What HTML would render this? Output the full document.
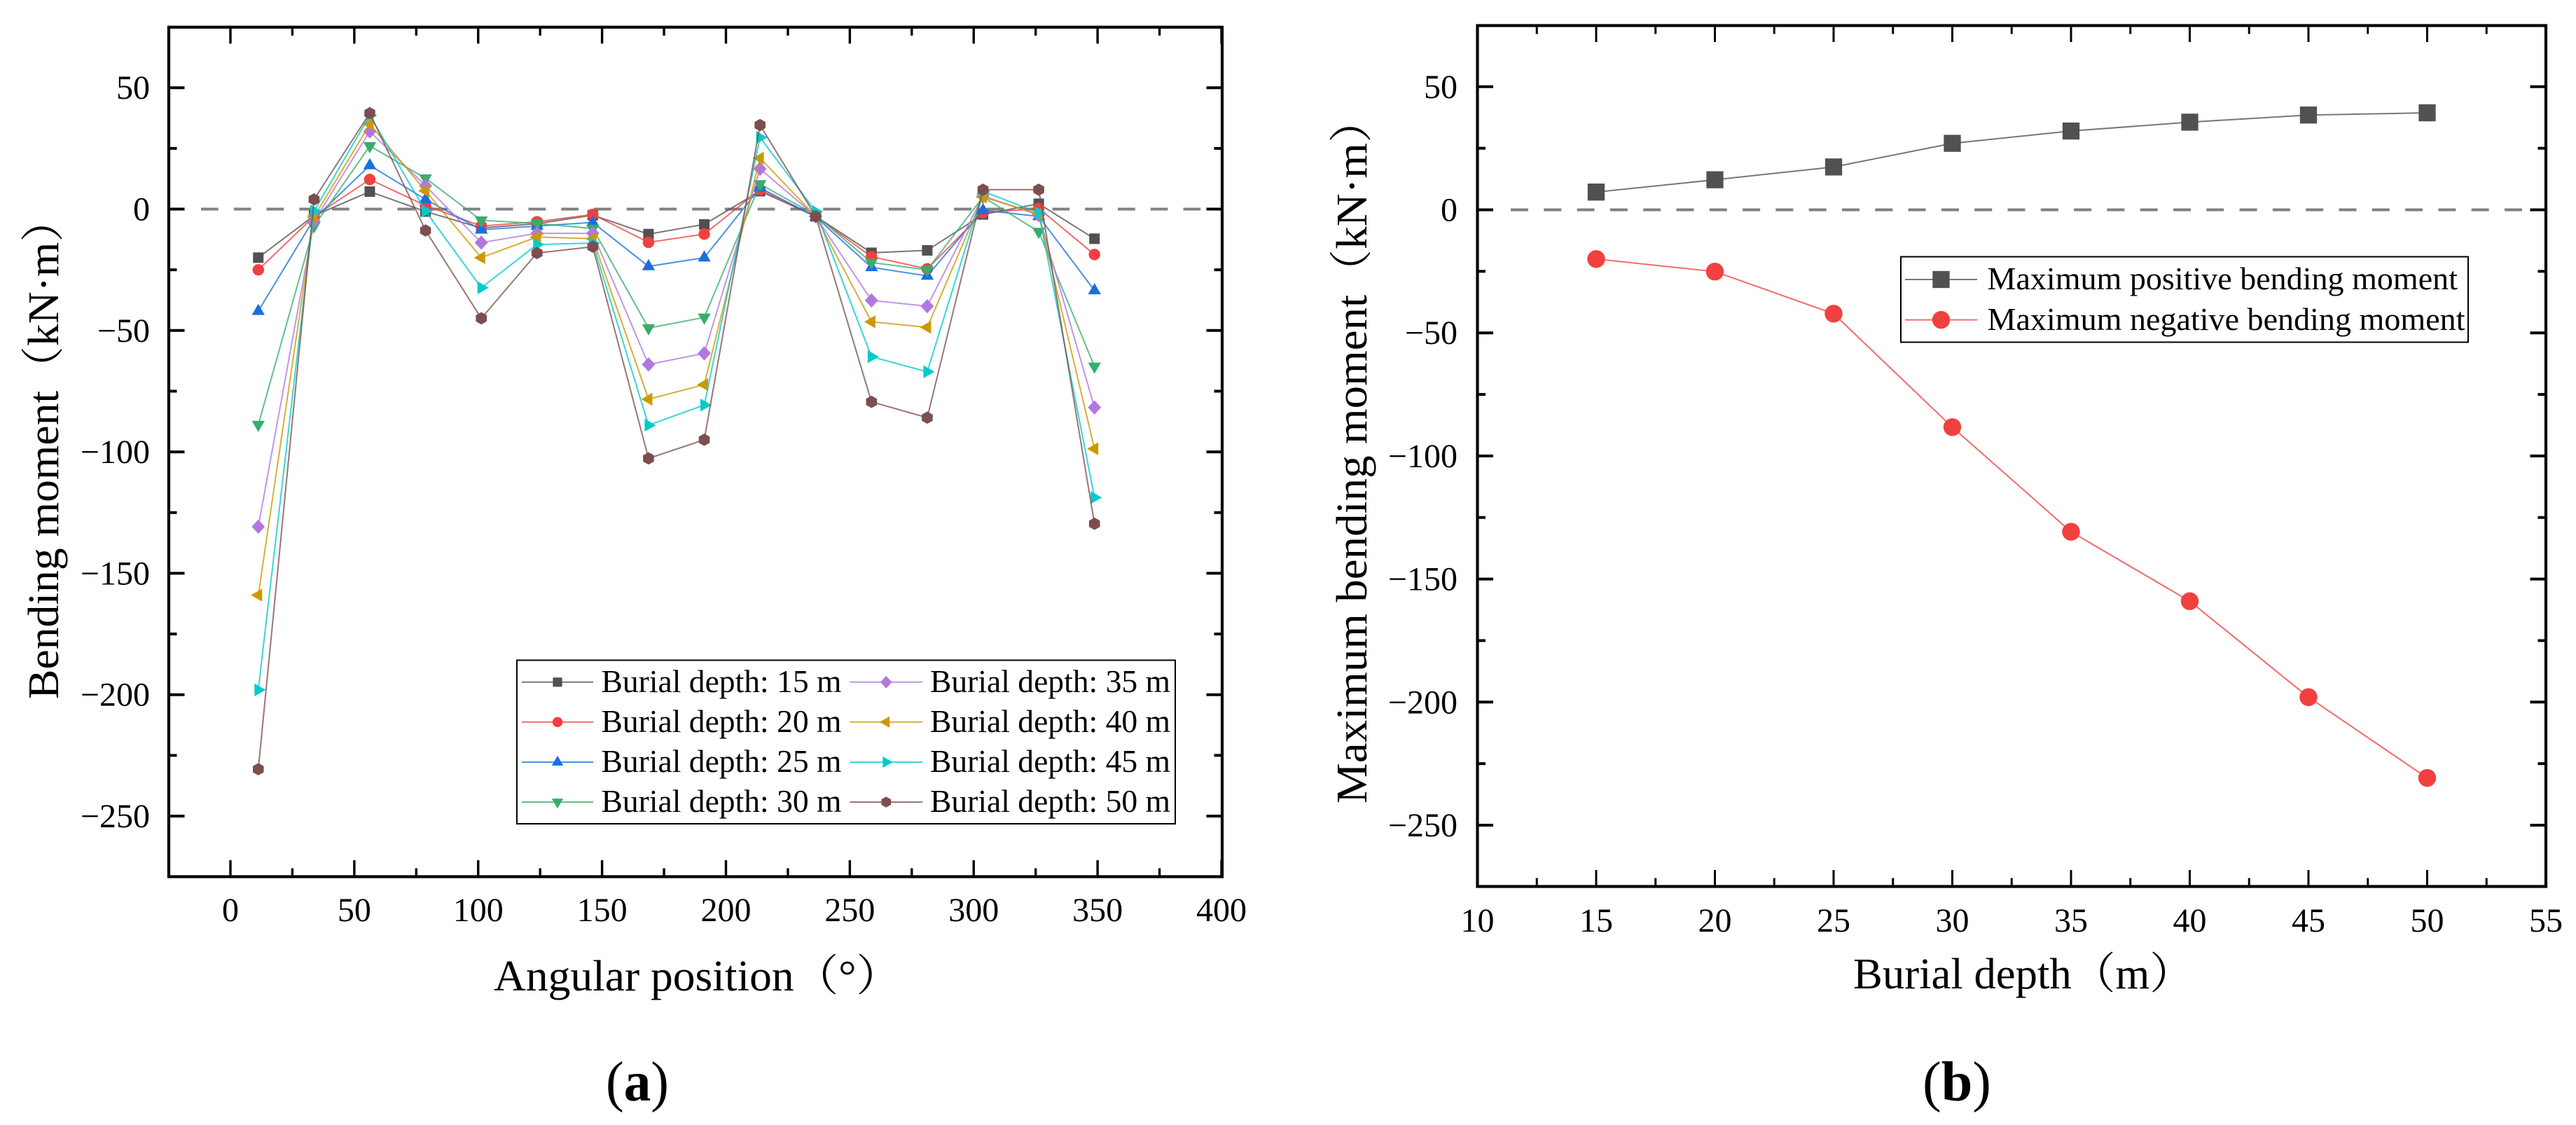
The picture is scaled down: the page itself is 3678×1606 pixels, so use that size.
<!DOCTYPE html>
<html lang="en">
<head>
<meta charset="utf-8">
<title>Bending moment charts</title>
<style>
html,body{margin:0;padding:0;background:#fff;}
svg{display:block;}
text{font-family:"Liberation Serif","Noto Serif CJK SC",serif;fill:#000;}
</style>
</head>
<body>
<svg id="figure" xmlns="http://www.w3.org/2000/svg" width="3678" height="1606" viewBox="0 0 3678 1606">
  <rect x="0" y="0" width="3678" height="1606" fill="#fff"/>
  <g id="chart-a"></g>
  <g id="chart-b"></g>

  <text transform="translate(83,998) rotate(-90)" font-size="62" textLength="716" lengthAdjust="spacingAndGlyphs">Bending moment（kN·m）</text>
  <text x="705" y="1414" font-size="62" textLength="581" lengthAdjust="spacingAndGlyphs">Angular position（°）</text>
  <text x="865" y="1571" font-size="80" textLength="90" lengthAdjust="spacingAndGlyphs">(<tspan font-weight="bold">a</tspan>)</text>

  <text transform="translate(1951,1147) rotate(-90)" font-size="62" textLength="1008" lengthAdjust="spacingAndGlyphs">Maximum bending moment（kN·m）</text>
  <text x="2646" y="1411" font-size="62" textLength="486" lengthAdjust="spacingAndGlyphs">Burial depth（m）</text>
  <text x="2745" y="1571" font-size="80" textLength="98" lengthAdjust="spacingAndGlyphs">(<tspan font-weight="bold">b</tspan>)</text>
</svg>

<script>
// ---- Chart (a) data ----
var angles = [11.25, 33.75, 56.25, 78.75, 101.25, 123.75, 146.25, 168.75, 191.25, 213.75, 236.25, 258.75, 281.25, 303.75, 326.25, 348.75];
var depth15 = [-20, -2.7, 7.2, -1, -7.8, -6, -2.5, -10.3, -6.3, 7.4, -3, -18, -17, -2.2, 2.2, -12.2];
var depth20 = [-25, -3, 12.2, 1.5, -7, -5.2, -2.2, -13.7, -10.3, 8, -3, -19.6, -24.6, -1.5, 0.3, -18.7];
var depth25 = [-42, -4, 18, 4, -8.5, -7, -5.5, -23.6, -20, 8.8, -3.2, -24, -27.5, -0.5, -3, -33.5];
var depth30 = [-88.8, -7, 26, 12.7, -4.6, -5.9, -8, -49, -44.6, 10.3, -2.5, -22, -25, 5, -9.3, -64.8];
var depth35 = [-130.8, -5, 32, 9.6, -13.8, -10, -10, -64, -59.4, 16.6, -3, -37.6, -40, 5.4, -2.5, -81.7];
var depth40 = [-159, -3.2, 35, 7.5, -20, -11.5, -12.2, -78.3, -72.3, 21, -3, -46.4, -48.7, 5, -2, -98.7];
var depth45 = [-198, -0.8, 38.6, -0.8, -32.4, -14.6, -14, -89, -80.7, 29.5, -1, -60.8, -67, 7.3, -1.5, -118.8];
var depth50 = [-230.7, 4, 39.5, -8.8, -45, -18.1, -15.5, -102.7, -95, 34.6, -3, -79.4, -85.9, 8, 8, -129.6];
var seriesLabels = ['Burial depth: 15 m', 'Burial depth: 20 m', 'Burial depth: 25 m', 'Burial depth: 30 m', 'Burial depth: 35 m', 'Burial depth: 40 m', 'Burial depth: 45 m', 'Burial depth: 50 m'];
var angleTicks = [0, 50, 100, 150, 200, 250, 300, 350, 400];
var momentTicks = [50, 0, -50, -100, -150, -200, -250];

// ---- Chart (b) data ----
var burialDepths = [15, 20, 25, 30, 35, 40, 45, 50];
var maxPositive = [7.2, 12.2, 17.4, 27, 32, 35.6, 38.5, 39.4];
var maxNegative = [-20, -25.1, -42.2, -88.3, -130.8, -159, -198, -230.8];
var extremeLabels = ['Maximum positive bending moment', 'Maximum negative bending moment'];
var depthTicks = [10, 15, 20, 25, 30, 35, 40, 45, 50, 55];

var SVGNS = 'http://www.w3.org/2000/svg';
var COLORS = ['#515151', '#F14040', '#1A6FDF', '#37AD6B', '#B177DE', '#CC9900', '#00CBCC', '#7D4E4E'];
var SHAPES = ['square', 'circle', 'up', 'down', 'diamond', 'left', 'right', 'hexagon'];

function make(parent, tag, attrs) {
  var el = document.createElementNS(SVGNS, tag);
  for (var k in attrs) { el.setAttribute(k, attrs[k]); }
  parent.appendChild(el);
  return el;
}

function polygonPoints(cx, cy, pts, s) {
  return pts.map(function (p) { return (cx + p[0] * s) + ',' + (cy + p[1] * s); }).join(' ');
}

function drawMarker(parent, shape, cx, cy, color, s) {
  var el;
  if (shape === 'square') {
    el = make(parent, 'rect', {x: cx - 7.5 * s, y: cy - 7.5 * s, width: 15 * s, height: 15 * s, fill: color});
  } else if (shape === 'circle') {
    el = make(parent, 'circle', {cx: cx, cy: cy, r: 8.2 * s, fill: color});
  } else {
    var shapes = {
      up: [[0, -10.5], [9.2, 5.5], [-9.2, 5.5]],
      down: [[0, 10.5], [9.2, -5.5], [-9.2, -5.5]],
      left: [[-10.5, 0], [5.5, -9.2], [5.5, 9.2]],
      right: [[10.5, 0], [-5.5, -9.2], [-5.5, 9.2]],
      diamond: [[0, -10.2], [9.4, 0], [0, 10.2], [-9.4, 0]],
      hexagon: [[0, -8.8], [7.8, -4.4], [7.8, 4.4], [0, 8.8], [-7.8, 4.4], [-7.8, -4.4]]
    };
    el = make(parent, 'polygon', {points: polygonPoints(cx, cy, shapes[shape], s), fill: color});
  }
  
  
  return el;
}

function drawFrame(root, box, xScale, yScale, xTicks, yTicks, tickCfg) {
  var ticks = make(root, 'g', {stroke: '#000'});
  
  

  var labels = make(root, 'g', {'font-size': 48});
  
  

  function xTick(v, len) {
    var x = xScale(v);
    var a = make(ticks, 'line', {x1: x, x2: x, y1: box.top, y2: box.top + len, 'stroke-width': tickCfg.xWidth});
    
    
    var b = make(ticks, 'line', {x1: x, x2: x, y1: box.bottom, y2: box.bottom - len, 'stroke-width': tickCfg.xWidth});
    
    
  }
  function yTick(v, len) {
    var y = yScale(v);
    var a = make(ticks, 'line', {x1: box.left, x2: box.left + len, y1: y, y2: y, 'stroke-width': tickCfg.yWidth});
    
    
    var b = make(ticks, 'line', {x1: box.right, x2: box.right - len, y1: y, y2: y, 'stroke-width': tickCfg.yWidth});
    
    
  }

  xTicks.forEach(function (v, i) {
    xTick(v, 23.5);
    if (i < xTicks.length - 1) { xTick((v + xTicks[i + 1]) / 2, 12); }
    var t = make(labels, 'text', {x: xScale(v), y: tickCfg.xLabelY, 'text-anchor': 'middle'});
    t.textContent = String(v);
    
    
  });
  yTicks.forEach(function (v, i) {
    yTick(v, 22.5);
    if (i < yTicks.length - 1) { yTick((v + yTicks[i + 1]) / 2, 11.5); }
    var t = make(labels, 'text', {x: tickCfg.yLabelX, y: yScale(v) + 16, 'text-anchor': 'end'});
    t.textContent = String(v).replace('-', '\u2212');
    
    
  });

  var frame = make(root, 'rect', {x: box.left, y: box.top, width: box.right - box.left, height: box.bottom - box.top, fill: 'none', stroke: '#000', 'stroke-width': 4.2});
  
  
}

function drawZeroLine(root, x1, x2, y, dash, gap) {
  var l = make(root, 'line', {x1: x1, x2: x2, y1: y, y2: y, stroke: '#808080', 'stroke-width': 4, 'stroke-dasharray': dash + ' ' + gap});
  
  
}

function drawSeries(root, xs, ys, xScale, yScale, color, shape, s, lineWidth, name) {
  var g = make(root, 'g', {});
  
  
  var pts = xs.map(function (x, i) { return xScale(x) + ',' + yScale(ys[i]); }).join(' ');
  var line = make(g, 'polyline', {points: pts, fill: 'none', stroke: color, 'stroke-width': lineWidth, 'stroke-opacity': 0.78});
  
  
  xs.forEach(function (x, i) {
    drawMarker(g, shape, xScale(x), yScale(ys[i]), color, s);
  });
}

function drawLegendEntry(root, x1, x2, cy, textX, baseline, label, textLen, fontSize, color, shape, s) {
  var g = make(root, 'g', {});
  
  
  var l = make(g, 'line', {x1: x1, x2: x2, y1: cy, y2: cy, stroke: color, 'stroke-width': 2, 'stroke-opacity': 0.78});
  
  
  drawMarker(g, shape, (x1 + x2) / 2, cy, color, s);
  var t = make(g, 'text', {x: textX, y: baseline, 'font-size': fontSize, textLength: textLen, lengthAdjust: 'spacingAndGlyphs'});
  t.textContent = label;
  
  
}

// ---- Chart (a) ----
(function () {
  var root = document.getElementById('chart-a');
  var box = {left: 241, right: 1745, top: 38.8, bottom: 1251.5};
  var xScale = function (v) { return 329 + v * 3.5375; };
  var yScale = function (v) { return 298.5 - v * 3.466; };
  drawZeroLine(root, 287, 1745, yScale(0), 24.7, 22.05);
  drawFrame(root, box, xScale, yScale, angleTicks, momentTicks, {xWidth: 3.4, yWidth: 4, xLabelY: 1315, yLabelX: 214});

  var all = [depth15, depth20, depth25, depth30, depth35, depth40, depth45, depth50];
  all.forEach(function (ys, i) {
    drawSeries(root, angles, ys, xScale, yScale, COLORS[i], SHAPES[i], 1, 2, 'series-' + seriesLabels[i].replace(/\D/g, '') + 'm');
  });

  var legend = make(root, 'g', {});
  
  
  var bg = make(legend, 'rect', {x: 738, y: 942.5, width: 940, height: 233.5, fill: '#fff', stroke: '#000', 'stroke-width': 2});
  
  
  var rowY = [973.8, 1030.8, 1088, 1145];
  seriesLabels.forEach(function (label, i) {
    var col = i < 4 ? 0 : 1;
    var cy = rowY[i % 4];
    drawLegendEntry(legend, col ? 1213.5 : 745, col ? 1317 : 847, cy, col ? 1328 : 858.5, cy + 14, label, 343, 46, COLORS[i], SHAPES[i], 0.88);
  });
})();

// ---- Chart (b) ----
(function () {
  var root = document.getElementById('chart-b');
  var box = {left: 2109.5, right: 3635, top: 36.5, bottom: 1265.5};
  var xScale = function (v) { return 2109.5 + (v - 10) * 33.9; };
  var yScale = function (v) { return 299.5 - v * 3.514; };
  drawZeroLine(root, 2157, 3601, yScale(0), 25, 22.3);
  drawFrame(root, box, xScale, yScale, depthTicks, momentTicks, {xWidth: 3, yWidth: 4, xLabelY: 1330, yLabelX: 2081});

  drawSeries(root, burialDepths, maxPositive, xScale, yScale, COLORS[0], 'square', 1.62, 2, 'series-maximum-positive');
  drawSeries(root, burialDepths, maxNegative, xScale, yScale, COLORS[1], 'circle', 1.55, 2, 'series-maximum-negative');

  var legend = make(root, 'g', {});
  
  
  var bg = make(legend, 'rect', {x: 2714, y: 366.5, width: 810, height: 122, fill: '#fff', stroke: '#000', 'stroke-width': 2});
  
  
  drawLegendEntry(legend, 2720, 2823, 399, 2837.5, 413, extremeLabels[0], 671.5, 46, COLORS[0], 'square', 1.62);
  drawLegendEntry(legend, 2720, 2823, 456.6, 2837.5, 471, extremeLabels[1], 682, 46, COLORS[1], 'circle', 1.55);
})();
</script>
</body>
</html>
